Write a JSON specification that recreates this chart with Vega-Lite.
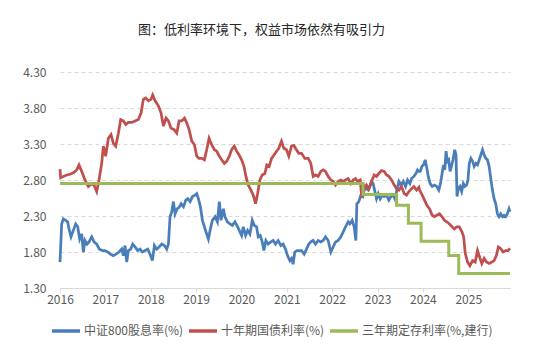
{
  "$schema": "https://vega.github.io/schema/vega-lite/v6.json",
  "width": 450,
  "height": 216,
  "autosize": {"type": "none"},
  "padding": {"left": 60, "top": 72, "right": 40, "bottom": 71},
  "background": "white",
  "title": {"text": "图：低利率环境下，权益市场依然有吸引力", "anchor": "middle", "frame": "group", "offset": 29, "dx": -23.5, "fontSize": 13, "font": "Noto Sans CJK SC", "fontWeight": "normal", "color": "#262626"},
  "datasets": {
    "dy": [
      {"t":2016.000,"v":1.66},{"t":2016.037,"v":2.19},{"t":2016.074,"v":2.26},{"t":2016.125,"v":2.24},{"t":2016.169,"v":2.22},{"t":2016.199,"v":2.12},{"t":2016.243,"v":2.01},{"t":2016.294,"v":2.10},{"t":2016.346,"v":2.19},{"t":2016.390,"v":2.15},{"t":2016.434,"v":1.98},{"t":2016.478,"v":2.05},{"t":2016.515,"v":1.80},{"t":2016.551,"v":1.96},{"t":2016.596,"v":1.91},{"t":2016.640,"v":1.94},{"t":2016.699,"v":2.01},{"t":2016.750,"v":1.94},{"t":2016.809,"v":1.91},{"t":2016.868,"v":1.84},{"t":2016.934,"v":1.82},{"t":2016.993,"v":1.82},
      {"t":2017.051,"v":1.80},{"t":2017.110,"v":1.77},{"t":2017.176,"v":1.75},{"t":2017.235,"v":1.77},{"t":2017.301,"v":1.80},{"t":2017.360,"v":1.84},{"t":2017.397,"v":1.75},{"t":2017.434,"v":1.89},{"t":2017.471,"v":1.66},{"t":2017.507,"v":1.82},{"t":2017.559,"v":1.84},{"t":2017.603,"v":1.91},{"t":2017.654,"v":1.87},{"t":2017.713,"v":1.82},{"t":2017.765,"v":1.84},{"t":2017.816,"v":1.80},{"t":2017.875,"v":1.82},{"t":2017.934,"v":1.84},{"t":2017.985,"v":1.77},
      {"t":2018.037,"v":1.68},{"t":2018.081,"v":1.89},{"t":2018.132,"v":1.84},{"t":2018.184,"v":1.87},{"t":2018.243,"v":1.91},{"t":2018.301,"v":1.89},{"t":2018.353,"v":1.84},{"t":2018.390,"v":1.91},{"t":2018.426,"v":2.29},{"t":2018.463,"v":2.36},{"t":2018.500,"v":2.50},{"t":2018.537,"v":2.33},{"t":2018.581,"v":2.40},{"t":2018.626,"v":2.42},{"t":2018.670,"v":2.47},{"t":2018.722,"v":2.43},{"t":2018.773,"v":2.52},{"t":2018.817,"v":2.54},{"t":2018.868,"v":2.50},{"t":2018.919,"v":2.57},{"t":2018.978,"v":2.59},
      {"t":2019.015,"v":2.61},{"t":2019.051,"v":2.54},{"t":2019.095,"v":2.43},{"t":2019.139,"v":2.24},{"t":2019.183,"v":2.15},{"t":2019.234,"v":2.05},{"t":2019.271,"v":1.98},{"t":2019.315,"v":2.12},{"t":2019.359,"v":2.24},{"t":2019.418,"v":2.29},{"t":2019.469,"v":2.22},{"t":2019.513,"v":2.50},{"t":2019.549,"v":2.24},{"t":2019.601,"v":2.40},{"t":2019.637,"v":2.29},{"t":2019.689,"v":2.22},{"t":2019.747,"v":2.19},{"t":2019.799,"v":2.17},{"t":2019.857,"v":2.22},{"t":2019.916,"v":2.15},{"t":2019.967,"v":2.08},
      {"t":2020.004,"v":2.03},{"t":2020.040,"v":2.15},{"t":2020.092,"v":2.03},{"t":2020.136,"v":2.10},{"t":2020.187,"v":2.05},{"t":2020.238,"v":2.24},{"t":2020.282,"v":2.17},{"t":2020.333,"v":2.15},{"t":2020.370,"v":2.01},{"t":2020.414,"v":2.03},{"t":2020.458,"v":1.94},{"t":2020.495,"v":1.82},{"t":2020.538,"v":1.96},{"t":2020.590,"v":1.91},{"t":2020.648,"v":1.94},{"t":2020.700,"v":1.96},{"t":2020.751,"v":1.91},{"t":2020.810,"v":1.96},{"t":2020.868,"v":1.89},{"t":2020.919,"v":1.91},{"t":2020.971,"v":1.84},
      {"t":2021.015,"v":1.75},{"t":2021.066,"v":1.68},{"t":2021.103,"v":1.71},{"t":2021.139,"v":1.63},{"t":2021.176,"v":1.80},{"t":2021.227,"v":1.82},{"t":2021.264,"v":1.82},{"t":2021.324,"v":1.82},{"t":2021.382,"v":1.77},{"t":2021.434,"v":1.84},{"t":2021.485,"v":1.91},{"t":2021.529,"v":1.94},{"t":2021.581,"v":1.96},{"t":2021.632,"v":1.91},{"t":2021.691,"v":1.96},{"t":2021.750,"v":1.94},{"t":2021.801,"v":1.96},{"t":2021.853,"v":2.01},{"t":2021.912,"v":1.96},{"t":2021.971,"v":1.80},
      {"t":2022.022,"v":1.87},{"t":2022.074,"v":1.94},{"t":2022.132,"v":1.96},{"t":2022.191,"v":2.01},{"t":2022.243,"v":2.08},{"t":2022.294,"v":2.15},{"t":2022.353,"v":2.22},{"t":2022.390,"v":2.19},{"t":2022.441,"v":2.24},{"t":2022.485,"v":2.15},{"t":2022.522,"v":1.96},{"t":2022.544,"v":2.47},{"t":2022.588,"v":2.50},{"t":2022.632,"v":2.59},{"t":2022.676,"v":2.57},{"t":2022.721,"v":2.71},{"t":2022.757,"v":2.68},{"t":2022.794,"v":2.66},{"t":2022.831,"v":2.71},{"t":2022.868,"v":2.78},{"t":2022.904,"v":2.75},{"t":2022.941,"v":2.64},{"t":2022.978,"v":2.54},
      {"t":2023.015,"v":2.61},{"t":2023.059,"v":2.54},{"t":2023.103,"v":2.59},{"t":2023.147,"v":2.57},{"t":2023.199,"v":2.59},{"t":2023.250,"v":2.52},{"t":2023.294,"v":2.57},{"t":2023.346,"v":2.59},{"t":2023.382,"v":2.54},{"t":2023.426,"v":2.66},{"t":2023.471,"v":2.78},{"t":2023.515,"v":2.73},{"t":2023.566,"v":2.78},{"t":2023.618,"v":2.71},{"t":2023.662,"v":2.80},{"t":2023.713,"v":2.75},{"t":2023.750,"v":2.82},{"t":2023.801,"v":2.85},{"t":2023.846,"v":2.89},{"t":2023.882,"v":2.94},{"t":2023.912,"v":2.92},{"t":2023.942,"v":2.92},{"t":2023.978,"v":2.99},
      {"t":2024.015,"v":3.01},{"t":2024.051,"v":3.08},{"t":2024.088,"v":2.96},{"t":2024.117,"v":2.85},{"t":2024.161,"v":2.75},{"t":2024.204,"v":2.71},{"t":2024.255,"v":2.73},{"t":2024.307,"v":2.71},{"t":2024.350,"v":2.66},{"t":2024.387,"v":2.75},{"t":2024.423,"v":2.89},{"t":2024.453,"v":3.01},{"t":2024.482,"v":2.94},{"t":2024.511,"v":3.20},{"t":2024.540,"v":3.06},{"t":2024.569,"v":3.08},{"t":2024.599,"v":2.92},{"t":2024.628,"v":2.99},{"t":2024.664,"v":3.08},{"t":2024.701,"v":3.22},{"t":2024.730,"v":3.15},{"t":2024.752,"v":2.57},{"t":2024.781,"v":2.68},{"t":2024.818,"v":2.71},{"t":2024.854,"v":2.64},{"t":2024.891,"v":2.75},{"t":2024.927,"v":2.71},{"t":2024.964,"v":2.73},{"t":2024.993,"v":2.80},
      {"t":2025.022,"v":3.03},{"t":2025.058,"v":3.10},{"t":2025.095,"v":3.06},{"t":2025.131,"v":2.99},{"t":2025.168,"v":3.03},{"t":2025.204,"v":3.01},{"t":2025.241,"v":3.08},{"t":2025.277,"v":3.15},{"t":2025.314,"v":3.22},{"t":2025.350,"v":3.15},{"t":2025.387,"v":3.10},{"t":2025.423,"v":3.08},{"t":2025.460,"v":2.99},{"t":2025.496,"v":2.82},{"t":2025.533,"v":2.66},{"t":2025.569,"v":2.54},{"t":2025.606,"v":2.47},{"t":2025.642,"v":2.33},{"t":2025.679,"v":2.29},{"t":2025.715,"v":2.33},{"t":2025.752,"v":2.29},{"t":2025.788,"v":2.31},{"t":2025.825,"v":2.29},{"t":2025.861,"v":2.33},{"t":2025.898,"v":2.40},{"t":2025.920,"v":2.36}
    ],
    "bond": [
      {"t":2016.000,"v":2.95},{"t":2016.015,"v":2.83},{"t":2016.074,"v":2.85},{"t":2016.147,"v":2.87},{"t":2016.221,"v":2.88},{"t":2016.294,"v":2.90},{"t":2016.368,"v":2.94},{"t":2016.419,"v":3.01},{"t":2016.478,"v":2.92},{"t":2016.551,"v":2.80},{"t":2016.625,"v":2.71},{"t":2016.699,"v":2.75},{"t":2016.757,"v":2.72},{"t":2016.809,"v":2.64},{"t":2016.860,"v":2.80},{"t":2016.919,"v":3.03},{"t":2016.956,"v":3.27},
      {"t":2017.007,"v":3.13},{"t":2017.066,"v":3.38},{"t":2017.125,"v":3.43},{"t":2017.176,"v":3.31},{"t":2017.228,"v":3.27},{"t":2017.287,"v":3.45},{"t":2017.338,"v":3.64},{"t":2017.397,"v":3.62},{"t":2017.449,"v":3.57},{"t":2017.507,"v":3.60},{"t":2017.581,"v":3.60},{"t":2017.654,"v":3.62},{"t":2017.728,"v":3.64},{"t":2017.787,"v":3.73},{"t":2017.838,"v":3.92},{"t":2017.890,"v":3.94},{"t":2017.949,"v":3.90},
      {"t":2018.007,"v":3.92},{"t":2018.044,"v":3.98},{"t":2018.096,"v":3.90},{"t":2018.169,"v":3.83},{"t":2018.228,"v":3.73},{"t":2018.279,"v":3.55},{"t":2018.338,"v":3.66},{"t":2018.390,"v":3.62},{"t":2018.449,"v":3.52},{"t":2018.515,"v":3.50},{"t":2018.574,"v":3.45},{"t":2018.625,"v":3.62},{"t":2018.685,"v":3.62},{"t":2018.744,"v":3.66},{"t":2018.795,"v":3.59},{"t":2018.846,"v":3.50},{"t":2018.905,"v":3.34},{"t":2018.963,"v":3.29},
      {"t":2019.015,"v":3.13},{"t":2019.066,"v":3.10},{"t":2019.125,"v":3.10},{"t":2019.183,"v":3.08},{"t":2019.234,"v":3.22},{"t":2019.286,"v":3.38},{"t":2019.344,"v":3.29},{"t":2019.403,"v":3.22},{"t":2019.454,"v":3.20},{"t":2019.513,"v":3.13},{"t":2019.564,"v":3.08},{"t":2019.623,"v":3.03},{"t":2019.674,"v":3.06},{"t":2019.733,"v":3.13},{"t":2019.784,"v":3.22},{"t":2019.842,"v":3.27},{"t":2019.894,"v":3.20},{"t":2019.945,"v":3.15},
      {"t":2020.004,"v":3.08},{"t":2020.055,"v":2.99},{"t":2020.099,"v":2.85},{"t":2020.150,"v":2.73},{"t":2020.209,"v":2.66},{"t":2020.260,"v":2.59},{"t":2020.311,"v":2.47},{"t":2020.355,"v":2.61},{"t":2020.407,"v":2.80},{"t":2020.458,"v":2.87},{"t":2020.516,"v":2.89},{"t":2020.560,"v":3.01},{"t":2020.612,"v":2.99},{"t":2020.663,"v":3.10},{"t":2020.722,"v":3.15},{"t":2020.773,"v":3.20},{"t":2020.824,"v":3.24},{"t":2020.883,"v":3.34},{"t":2020.934,"v":3.24},{"t":2020.993,"v":3.22},
      {"t":2021.044,"v":3.13},{"t":2021.103,"v":3.27},{"t":2021.154,"v":3.28},{"t":2021.212,"v":3.22},{"t":2021.264,"v":3.17},{"t":2021.324,"v":3.17},{"t":2021.397,"v":3.10},{"t":2021.471,"v":3.10},{"t":2021.529,"v":3.03},{"t":2021.581,"v":2.85},{"t":2021.632,"v":2.87},{"t":2021.691,"v":2.85},{"t":2021.750,"v":2.92},{"t":2021.801,"v":2.94},{"t":2021.853,"v":2.92},{"t":2021.912,"v":2.85},{"t":2021.971,"v":2.80},
      {"t":2022.022,"v":2.78},{"t":2022.074,"v":2.73},{"t":2022.132,"v":2.78},{"t":2022.191,"v":2.80},{"t":2022.243,"v":2.78},{"t":2022.294,"v":2.80},{"t":2022.353,"v":2.82},{"t":2022.412,"v":2.75},{"t":2022.463,"v":2.80},{"t":2022.515,"v":2.82},{"t":2022.559,"v":2.78},{"t":2022.618,"v":2.80},{"t":2022.647,"v":2.59},{"t":2022.706,"v":2.66},{"t":2022.757,"v":2.73},{"t":2022.809,"v":2.68},{"t":2022.868,"v":2.78},{"t":2022.926,"v":2.87},{"t":2022.978,"v":2.85},
      {"t":2023.029,"v":2.89},{"t":2023.088,"v":2.93},{"t":2023.147,"v":2.92},{"t":2023.199,"v":2.87},{"t":2023.250,"v":2.85},{"t":2023.309,"v":2.80},{"t":2023.368,"v":2.73},{"t":2023.419,"v":2.68},{"t":2023.471,"v":2.66},{"t":2023.529,"v":2.71},{"t":2023.588,"v":2.61},{"t":2023.640,"v":2.59},{"t":2023.691,"v":2.64},{"t":2023.750,"v":2.68},{"t":2023.801,"v":2.71},{"t":2023.860,"v":2.66},{"t":2023.912,"v":2.70},{"t":2023.927,"v":2.66},{"t":2023.985,"v":2.59},
      {"t":2024.036,"v":2.52},{"t":2024.088,"v":2.45},{"t":2024.146,"v":2.40},{"t":2024.204,"v":2.31},{"t":2024.255,"v":2.29},{"t":2024.307,"v":2.31},{"t":2024.365,"v":2.33},{"t":2024.423,"v":2.29},{"t":2024.474,"v":2.24},{"t":2024.526,"v":2.22},{"t":2024.584,"v":2.19},{"t":2024.642,"v":2.15},{"t":2024.693,"v":2.12},{"t":2024.745,"v":2.15},{"t":2024.803,"v":2.15},{"t":2024.861,"v":2.08},{"t":2024.898,"v":2.01},{"t":2024.934,"v":1.78},{"t":2024.985,"v":1.66},
      {"t":2025.036,"v":1.61},{"t":2025.095,"v":1.68},{"t":2025.153,"v":1.66},{"t":2025.204,"v":1.82},{"t":2025.255,"v":1.72},{"t":2025.299,"v":1.64},{"t":2025.350,"v":1.71},{"t":2025.401,"v":1.66},{"t":2025.460,"v":1.64},{"t":2025.518,"v":1.66},{"t":2025.569,"v":1.68},{"t":2025.620,"v":1.75},{"t":2025.664,"v":1.87},{"t":2025.715,"v":1.85},{"t":2025.766,"v":1.80},{"t":2025.825,"v":1.82},{"t":2025.876,"v":1.82},{"t":2025.920,"v":1.85}
    ],
    "dep": [
      {"t":2016.000,"v":2.75},{"t":2022.680,"v":2.60},{"t":2023.420,"v":2.45},{"t":2023.680,"v":2.20},{"t":2023.960,"v":1.95},{"t":2024.570,"v":1.75},{"t":2024.790,"v":1.50},{"t":2025.920,"v":1.50}
    ]
  },
  "encoding": {
    "x": {"field": "t", "type": "quantitative", "scale": {"domain": [2016, 2025.92], "nice": false, "zero": false},
          "axis": {"title": null, "values": [2016,2017,2018,2019,2020,2021,2022,2023,2024,2025], "format": "d", "grid": false, "domainColor": "#d9d9d9", "tickColor": "#d9d9d9", "tickSize": 4, "labelPadding": 2, "labelFontSize": 12, "labelColor": "#595959", "labelFont": "Noto Sans CJK SC", "labelFlush": false}},
    "y": {"field": "v", "type": "quantitative", "scale": {"domain": [1.3, 4.3], "nice": false, "zero": false},
          "axis": {"title": null, "values": [1.3,1.8,2.3,2.8,3.3,3.8,4.3], "format": ".2f", "domain": false, "ticks": false, "tickSize": 0, "labelPadding": 14, "grid": true, "gridDash": [4,3], "gridColor": "#d9d9d9", "labelFontSize": 12, "labelColor": "#595959", "labelFont": "Noto Sans CJK SC"}}
  },
  "layer": [
    {"data": {"name": "dy"}, "mark": {"type": "line", "strokeWidth": 2.75},
     "encoding": {"color": {"datum": "中证800股息率(%)", "type": "nominal",
        "scale": {"domain": ["中证800股息率(%)"], "range": ["#4a7ebb"]},
        "legend": {"title": null, "orient": "none", "legendX": -10, "legendY": 243, "symbolType": "stroke", "symbolSize": 784, "symbolStrokeWidth": 3.5, "labelFontSize": 12, "labelColor": "#595959", "labelFont": "Noto Sans CJK SC", "labelOffset": 2}}}},
    {"data": {"name": "bond"}, "mark": {"type": "line", "strokeWidth": 2.75},
     "encoding": {"color": {"datum": "十年期国债利率(%)", "type": "nominal",
        "scale": {"domain": ["十年期国债利率(%)"], "range": ["#c0504d"]},
        "legend": {"title": null, "orient": "none", "legendX": 127, "legendY": 243, "symbolType": "stroke", "symbolSize": 784, "symbolStrokeWidth": 3.5, "labelFontSize": 12, "labelColor": "#595959", "labelFont": "Noto Sans CJK SC", "labelOffset": 2}}}},
    {"data": {"name": "dep"}, "mark": {"type": "line", "strokeWidth": 3, "interpolate": "step-after"},
     "encoding": {"color": {"datum": "三年期定存利率(%,建行)", "type": "nominal",
        "scale": {"domain": ["三年期定存利率(%,建行)"], "range": ["#9bbb59"]},
        "legend": {"title": null, "orient": "none", "legendX": 268, "legendY": 243, "symbolType": "stroke", "symbolSize": 784, "symbolStrokeWidth": 3.5, "labelFontSize": 12, "labelColor": "#595959", "labelFont": "Noto Sans CJK SC", "labelOffset": 2}}}}
  ],
  "resolve": {"scale": {"color": "independent"}},
  "config": {"view": {"stroke": null}}
}
